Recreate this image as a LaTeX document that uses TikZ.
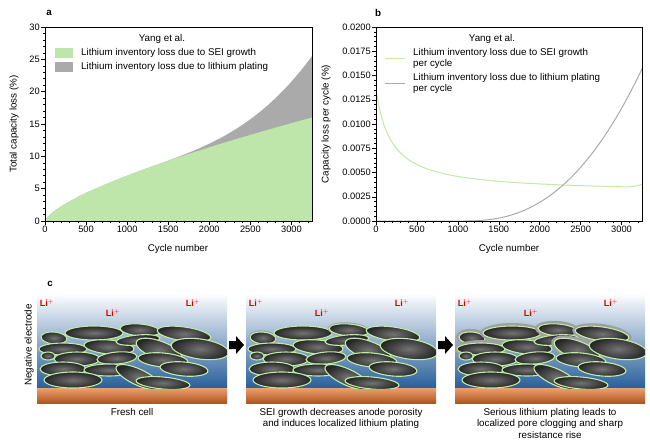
\documentclass[tikz,border=0pt]{standalone}
\usepackage{fontspec}
\setmainfont{Liberation Sans}
\usetikzlibrary{positioning}
\definecolor{seigreen}{RGB}{190,230,170}
\definecolor{seiline}{RGB}{190,235,165}
\definecolor{platgray}{RGB}{170,170,170}
\definecolor{elblue}{RGB}{40,95,155}
\definecolor{cutop}{RGB}{235,160,110}
\definecolor{cubot}{RGB}{175,85,30}
\tikzset{
    axisline/.style = {line width=0.6pt},
    tickmaj/.style = {line width=0.5pt},
    ticklab/.style = {font=\fontsize{9.3}{10}\selectfont, inner sep=1pt},
    axlab/.style = {font=\fontsize{9.8}{11}\selectfont},
    legtext/.style = {font=\fontsize{9.8}{11}\selectfont, anchor=west, align=left, inner sep=0pt},
    panellab/.style = {font=\fontsize{9.8}{11}\selectfont\bfseries},
    capt/.style = {font=\fontsize{9.8}{11.3}\selectfont, align=center, anchor=north},
    lilab/.style = {text=red!85!black, font=\fontsize{9}{10}\selectfont\bfseries},
    grain/.style = {draw=seiline, line width=1.1pt, inner color=black!55, outer color=black!85},
}
% grains: x/y/rx/ry/angle/tag
\newcommand{\grainlist}{17/45/13/6/-5/1, 57/40/29/7/0/2, 103/37/20/6/-5/1, 147/41/27/7/-8/2,
  26/56/24/6/0/2, 72/54/25/7/-5/0, 101/47/22/5/5/0, 122/57/24/9/-20/2, 163/56/29/10/-8/0,
  11/63/7/4/0/0, 40/66/23/7/0/0, 80/65/20/6/5/0, 126/67/25/7/-5/0,
  26/76/23/7/0/0, 72/77/25/6/0/0, 101/84/24/8/-25/0, 147/76/24/7/-5/0,
  36/87/29/8/0/0, 126/90/27/6/-5/0}
\newcommand{\grains}[2]{%
  \foreach \gx/\gy/\grx/\gry/\ga/\gt in \grainlist {
    \ifnum\gt>0 \ifnum\gt>#1 \else
      \fill[gray!75] (\gx,\gy) ellipse[x radius=\grx+#2, y radius=\gry+#2, rotate=\ga];
    \fi\fi
    \path[grain] (\gx,\gy) ellipse[x radius=\grx, y radius=\gry, rotate=\ga];
  }}
\begin{document}
\begin{tikzpicture}[x=1pt, y=-1pt]
\useasboundingbox (0,0) rectangle (650,445);
%
% panel a
\node[panellab] (la) at (49,13) {a};
\begin{scope}[shift={(45,221)}, x=0.08215pt, y=6.4667pt]
  \fill[platgray] (0,0) -- plot[domain=1:3250, samples=80] (\x, {16*(\x/3250)^0.7 + 9.5*(max(\x-1200,0)/2050)^3}) -- (3250,0) -- cycle;
  \fill[seigreen] (0,0) -- plot[domain=1:3250, samples=80] (\x, {16*(\x/3250)^0.7}) -- (3250,0) -- cycle;
  \draw[axisline] (0,30) -- (0,0) -- (3250,0) -- (3250,30) -- cycle;
  \foreach \v in {0,5,...,30} {
    \draw[tickmaj] (0,\v) -- ++(-4pt,0);
    \node[ticklab, anchor=east] at ([xshift=-4pt]0,\v) {\v};
  }
  \foreach \v in {1,...,29} \draw[tickmaj] (0,\v) -- ++(-2pt,0);
  \foreach \v in {0,500,...,3000} {
    \draw[tickmaj] (\v,0) -- ++(0,-4pt);
    \node[ticklab, anchor=north] at ([yshift=-4pt]\v,0) {\v};
  }
  \foreach \v in {100,200,...,3200} \draw[tickmaj] (\v,0) -- ++(0,-2pt);
\end{scope}
\node[axlab] (xa) at (178,249) {Cycle number};
\node[axlab, rotate=90] (ya) at (14,124) {Total capacity loss (\%)};
\node[legtext, anchor=center] (leg0a) at (162,39) {Yang et al.};
\fill[seigreen] (55,48) rectangle (73,58);
\fill[platgray] (55,62) rectangle (73,72);
\node[legtext] (leg1a) at (81,53) {Lithium inventory loss due to SEI growth};
\node[legtext] (leg2a) at (81,67) {Lithium inventory loss due to lithium plating};
%
% panel b
\node[panellab] (lb) at (378,13) {b};
\begin{scope}[shift={(376,221)}, x=0.08185pt, y=9.7pt]
  \draw[seiline, line width=1pt] plot[domain=0:3250, samples=100] (\x, {2.9 + 10.6/(1+\x/190) + 0.3*(max(\x-3050,0)/200)^2});
  \draw[platgray, line width=1pt] (0,0) -- (1060,0) -- plot[domain=1060:3250, samples=80] (\x, {15.7*((\x-1050)/2200)^2.5});
  \draw[axisline] (0,20) -- (0,0) -- (3250,0) -- (3250,20) -- cycle;
  \foreach \v/\l in {0/0.0000, 2.5/0.0025, 5/0.0050, 7.5/0.0075, 10/0.0100, 12.5/0.0125, 15/0.0150, 17.5/0.0175, 20/0.0200} {
    \draw[tickmaj] (0,\v) -- ++(-4pt,0);
    \node[ticklab, anchor=east] at ([xshift=-4pt]0,\v) {\l};
  }
  \foreach \v in {0.5,1,...,19.5} \draw[tickmaj] (0,\v) -- ++(-2pt,0);
  \foreach \v in {0,500,...,3000} {
    \draw[tickmaj] (\v,0) -- ++(0,-4pt);
    \node[ticklab, anchor=north] at ([yshift=-4pt]\v,0) {\v};
  }
  \foreach \v in {100,200,...,3200} \draw[tickmaj] (\v,0) -- ++(0,-2pt);
\end{scope}
\node[axlab] (xb) at (509,249) {Cycle number};
\node[axlab, rotate=90] (yb) at (326,124) {Capacity loss per cycle (\%)};
\node[legtext, anchor=center] (leg0b) at (492,39) {Yang et al.};
\draw[seiline, line width=1pt] (385,58) -- (405,58);
\draw[platgray, line width=1pt] (385,83) -- (405,83);
\node[legtext] (leg1b) at (413,58) {Lithium inventory loss due to SEI growth\\per cycle};
\node[legtext] (leg2b) at (413,83) {Lithium inventory loss due to lithium plating\\per cycle};
%
% panel c
\node[panellab] (lc) at (50,284) {c};
\node[axlab, rotate=90] (yc) at (29,345) {Negative electrode};
\foreach \px/\n/\w in {37/0/0, 246/1/1.5, 455/2/3} {
  \begin{scope}[shift={(\px,293)}]
    \shade[top color=white, bottom color=elblue] (0,0) rectangle (190,95);
    \shade[top color=cutop, bottom color=cubot] (0,95) rectangle (190,110);
    \begin{scope}
      \clip (0,0) rectangle (190,95);
      \grains{\n}{\w}
    \end{scope}
    \node[lilab] at (10,10) {Li$^{+}$};
    \node[lilab] at (76,20) {Li$^{+}$};
    \node[lilab] at (156,10) {Li$^{+}$};
  \end{scope}
}
\node[capt] (c1) at (132,405) {Fresh cell};
\node[capt] (c2) at (341,405) {SEI growth decreases anode porosity\\and induces localized lithium plating};
\node[capt] (c3) at (550,405) {Serious lithium plating leads to\\localized pore clogging and sharp\\resistance rise};
\foreach \ax in {229,438} {
  \fill[black] (\ax,341) -- ++(7,0) -- ++(0,-5) -- ++(8,9) -- ++(-8,9) -- ++(0,-5) -- ++(-7,0) -- cycle;
}
\end{tikzpicture}
\end{document}
